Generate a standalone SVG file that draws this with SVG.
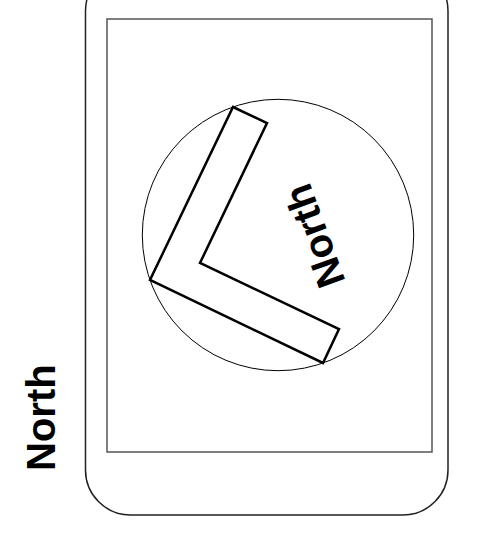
<svg xmlns="http://www.w3.org/2000/svg" width="495" height="543" viewBox="0 0 495 543">
<style>
.frame{fill:none;stroke:#222;stroke-width:1.5}
.screen{fill:none;stroke:#555;stroke-width:1.5}
.dial{fill:none;stroke:#000;stroke-width:1}
.needle{fill:none;stroke:#000;stroke-width:2.5;stroke-linejoin:miter}
.lbl{font-family:"Liberation Sans",Arial,sans-serif;font-weight:bold;font-size:40px;fill:#000}
</style>
<rect width="495" height="543" fill="#fff"/>
<g id="phone">
<rect class="frame" x="85.5" y="-34" width="362.5" height="549" rx="45" ry="45"/>
<rect class="screen" x="107" y="19" width="325" height="433"/>
</g>
<g id="compass">
<circle class="dial" cx="278" cy="235" r="135.7"/>
<polygon class="needle" points="233,107 267,123 200,263 339,329 323,363 150,280"/>
<text class="lbl" text-anchor="middle" transform="translate(314,236) rotate(-110)" x="0" y="14.3">North</text>
</g>
<g id="label">
<text class="lbl" transform="translate(55,471) rotate(-90)">North</text>
</g>
</svg>
